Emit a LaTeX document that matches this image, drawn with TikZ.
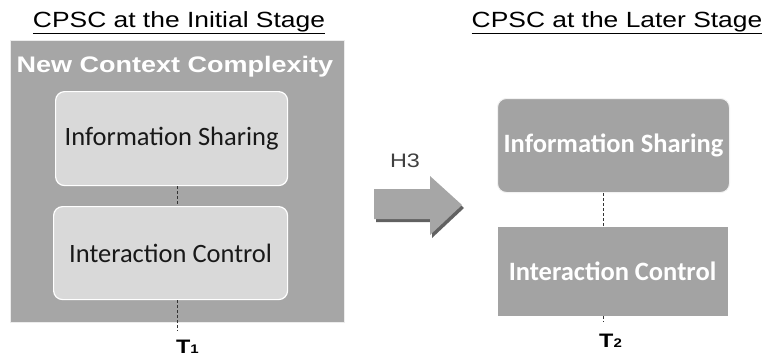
\documentclass[tikz,border=0pt]{standalone}
\usepackage{graphicx}
\usepackage{fontspec}
\setmainfont{Liberation Sans}
\newfontfamily\calib{Carlito}
\newcommand{\wide}[1]{\scalebox{1.2}[1]{#1}}
\begin{document}
\begin{tikzpicture}[x=1pt,y=-1pt,
  title/.style={font=\fontsize{22}{24}\selectfont, text=black, inner sep=0pt},
  outerbox/.style={fill=boxgray, draw=white!85!gray, line width=1pt},
  lightbox/.style={fill=lightgray2, draw=white, line width=1.2pt, rounded corners=9pt, font=\calib\fontsize{26.5}{28}\selectfont, text=black!90},
  darkbox/.style={fill=darkgray2, draw=white!90!gray, line width=1pt, font=\calib\bfseries\fontsize{26.5}{28}\selectfont, text=white},
  tlabel/.style={font=\bfseries\fontsize{19.5}{22}\selectfont, inner sep=0pt},
  dashline/.style={dashed, dash pattern=on 3pt off 2pt, line width=1pt, black!80}
]
\definecolor{boxgray}{HTML}{A6A6A6}
\definecolor{lightgray2}{HTML}{D9D9D9}
\definecolor{darkgray2}{HTML}{A3A3A3}
\useasboundingbox (0,0) rectangle (768,360);
% titles
\node[title, anchor=base] (t1) at (179,27.5) {\wide{\underline{CPSC at the Initial Stage}}};
\node[title, anchor=base] (t2) at (617,27.5) {\wide{\underline{CPSC at the Later Stage}}};
% left outer box
\node[outerbox, minimum width=334pt, minimum height=282pt, anchor=north west, inner sep=0pt] (outer) at (10,40) {};
\node[font=\bfseries\fontsize{22.5}{24}\selectfont, text=white, anchor=base] (nc) at (175,72) {\scalebox{1.2}[1]{New Context Complexity}};
\node[lightbox, minimum width=232pt, minimum height=94pt, anchor=north west] (li) at (55,91) {Information Sharing};
\node[lightbox, minimum width=234pt, minimum height=93pt, anchor=north west] (lc) at (53,206) {Interaction Control};
\coordinate (c1) at (177,331);
\draw[dashline] (li.south -| c1) -- (lc.north -| c1);
\draw[dashline] (lc.south -| c1) -- (c1);
\node[tlabel, anchor=base west] (T1) at (176,353) {\wide{T{\fontsize{12.5}{15}\selectfont 1}}};
% arrow
\fill[black!62, shift={(2,3)}] (374,189) -- (430,189) -- (430,176) -- (462,205) -- (430,235) -- (430,219) -- (374,219) -- cycle;
\fill[boxgray] (374,189) -- (430,189) -- (430,176) -- (462,205) -- (430,235) -- (430,219) -- (374,219) -- cycle;
\node[font=\fontsize{19.5}{21}\selectfont, text=black!75, anchor=base] (h3) at (405,167) {\wide{H3}};
% right boxes
\node[darkbox, rounded corners=9pt, minimum width=232pt, minimum height=94pt, anchor=north west] (ri) at (497,98) {Information Sharing};
\node[darkbox, draw=none, minimum width=230pt, minimum height=89pt, anchor=north west] (rc) at (497,226) {Interaction Control};
\coordinate (c2) at (603,322);
\draw[dashline] (ri.south -| c2) -- (rc.north -| c2);
\draw[dashline] (rc.south -| c2) -- (c2);
\node[tlabel, anchor=base west] (T2) at (599,347) {\wide{T{\fontsize{12.5}{15}\selectfont 2}}};
\end{tikzpicture}
\end{document}
